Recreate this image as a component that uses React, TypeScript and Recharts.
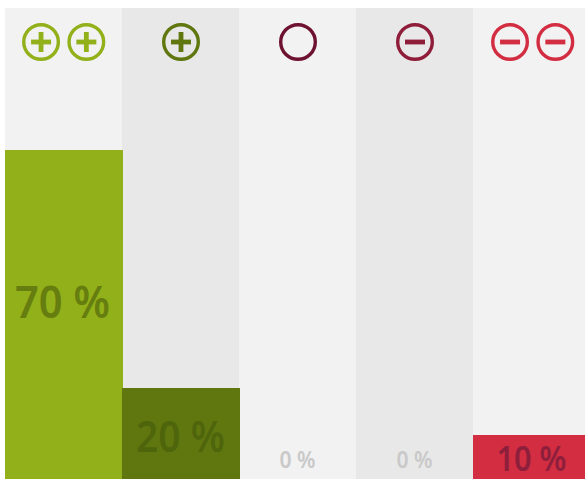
import React from "react";
import { BarChart, Bar, XAxis, YAxis, Cell, LabelList } from "recharts";

const categories = ["++", "+", "o", "-", "--"];
const shares = [70, 20, 0, 0, 10];
const labels = ["70 %", "20 %", "0 %", "0 %", "10 %"];
const barColors = ["#92b01a", "#607710", "#6e1230", "#8f1d3a", "#d22d41"];
const textColors = ["#667d0f", "#4f650c", "#c9c9c9", "#c9c9c9", "#8e1f3c"];
const bandColors = ["#f2f2f2", "#e8e8e8", "#f2f2f2", "#e8e8e8", "#f2f2f2"];
const iconCounts = [2, 1, 1, 1, 2];
const iconMarks = ["plus", "plus", "none", "minus", "minus"];
const fontSizes = [45, 43, 23, 23, 34];
const labelWidths = [95, 89, 36, 36, 70];
const labelCenters = [300.5, 435, 459, 459, 457.5];
const labelNudges = [-1, 0, 0, 0, 0];
const iconNudges = [0.2, 0.5, 0.5, 0.5, 1.2];

const data = categories.map((c, i) => ({ category: c, share: shares[i], index: i }));

const FONT = '"Noto Sans", sans-serif';

function Icon({ cx, cy, color, mark }: { cx: number; cy: number; color: string; mark: string }) {
  return (
    <g>
      <circle cx={cx} cy={cy} r={17.3} fill="none" stroke={color} strokeWidth={3.4} />
      {mark !== "none" && <rect x={cx - 10} y={cy - 2.4} width={20} height={4.8} fill={color} />}
      {mark === "plus" && <rect x={cx - 2.4} y={cy - 10} width={4.8} height={20} fill={color} />}
    </g>
  );
}

function Band(props: any) {
  const { x, y, width, height, index } = props;
  const cx = x + width / 2 + iconNudges[index];
  const n = iconCounts[index];
  const centers = n === 2 ? [cx - 22.65, cx + 22.65] : [cx];
  return (
    <g>
      <rect x={x} y={y} width={width} height={height} fill={bandColors[index]} />
      {centers.map((c, k) => (
        <Icon key={k} cx={c} cy={42} color={barColors[index]} mark={iconMarks[index]} />
      ))}
    </g>
  );
}

function Fill(props: any) {
  const { x, y, width, height, index } = props;
  if (!height) return null;
  const top = Math.floor(y);
  return <rect x={x} y={top} width={width + 1} height={y + height - top} fill={barColors[index]} />;
}

function PercentLabel(props: any) {
  const { x, width, index } = props;
  return (
    <text
      x={x + width / 2 + labelNudges[index]}
      y={labelCenters[index]}
      textAnchor="middle"
      dominantBaseline="central"
      fontFamily={FONT}
      fontWeight={600}
      fontSize={fontSizes[index]}
      fill={textColors[index]}
      textLength={labelWidths[index]}
      lengthAdjust="spacingAndGlyphs"
    >
      {labels[index]}
    </text>
  );
}

export default function App() {
  return (
    <div style={{ position: "absolute", left: 0, top: 0, width: 585, height: 479, overflow: "hidden", background: "#fff" }}>
      <BarChart
        width={590}
        height={483}
        data={data}
        barCategoryGap={0}
        margin={{ top: 8, right: 0, bottom: 0, left: 5 }}
      >
        <XAxis dataKey="category" hide />
        <YAxis type="number" domain={[0, 100]} hide />
        <Bar dataKey="share" isAnimationActive={false} background={Band as any} shape={Fill as any}>
          {data.map((d) => (
            <Cell key={d.category} fill={barColors[d.index]} />
          ))}
          <LabelList dataKey="share" content={PercentLabel as any} />
        </Bar>
      </BarChart>
    </div>
  );
}
